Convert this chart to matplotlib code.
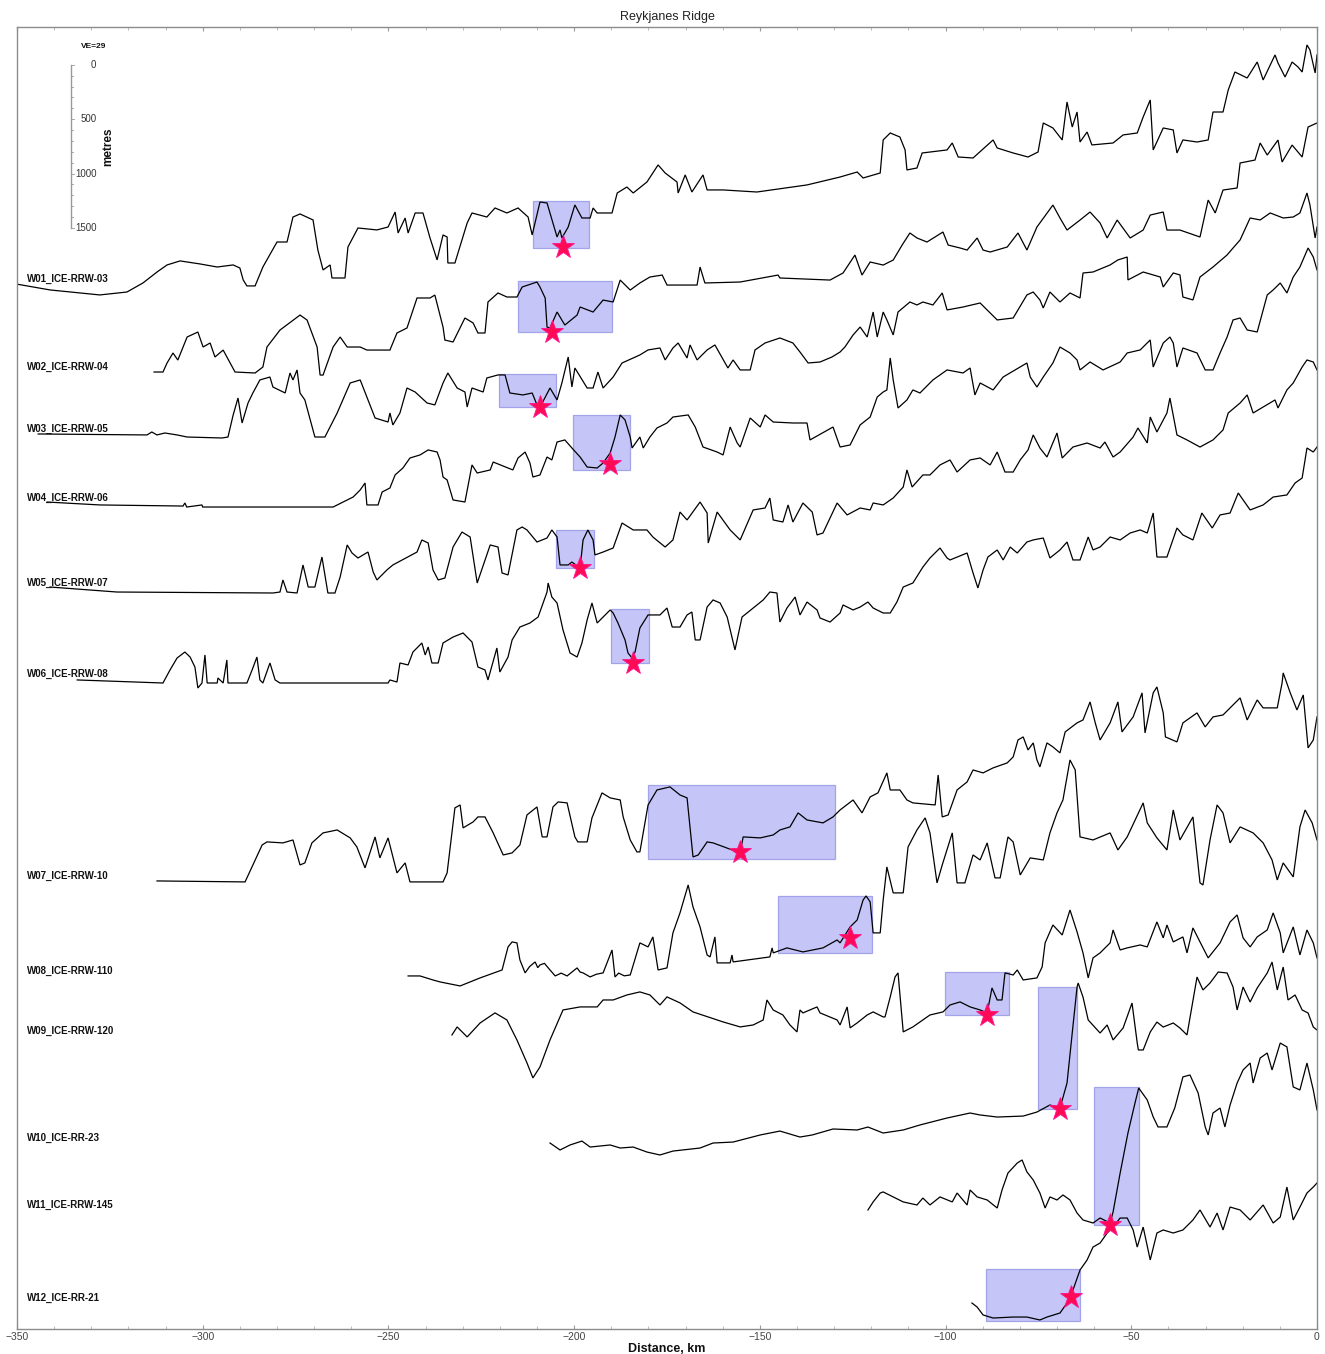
import matplotlib
matplotlib.use("Agg")
import matplotlib.pyplot as plt
from matplotlib.patches import Rectangle
from matplotlib.ticker import MultipleLocator

plt.rcParams['font.family'] = ['Liberation Sans', 'DejaVu Sans']

# ---------------- data: (distance km, relief m relative to profile baseline) ----------------
names = ["W01_ICE-RRW-03", "W02_ICE-RRW-04", "W03_ICE-RRW-05", "W04_ICE-RRW-06",
         "W05_ICE-RRW-07", "W06_ICE-RRW-08", "W07_ICE-RRW-10", "W08_ICE-RRW-110",
         "W09_ICE-RRW-120", "W10_ICE-RR-23", "W11_ICE-RRW-145", "W12_ICE-RR-21"]

W01 = [(-350.3,-46),(-341.1,-101),(-327.7,-147),(-320.4,-120),(-316.1,-37),(-312.3,64),(-309.6,129),(-306.1,166),(-300.7,138),(-296.1,110),(-291.8,129),(-290.0,101),(-289.1,-9),(-288.1,-64),(-285.9,-64),(-283.8,110),(-280.0,340),(-277.3,340),(-275.7,570),(-273.8,598),(-270.3,543),(-269.0,267),(-267.6,83),(-265.7,129),(-265.2,9),(-261.7,9),(-260.9,294),(-258.2,469),(-253.1,451),(-250.1,478),(-248.2,616),(-247.4,423),(-245.5,561),(-244.7,423),(-242.8,607),(-240.7,607),(-238.8,377),(-236.9,175),(-235.3,405),(-234.2,386),(-234.0,147),(-232.1,147),(-228.8,515),(-227.5,607),(-223.5,570),(-221.3,653),(-218.1,607),(-215.1,653),(-212.4,570),(-211.3,405),(-209.2,708),(-207.3,699),(-206.5,607),(-204.6,386),(-203.8,451),(-203.3,377),(-201.6,478),(-199.8,681),(-197.9,561),(-195.7,561),(-194.9,653),(-193.8,607),(-189.8,607),(-188.4,791),(-185.8,846),(-184.1,791),(-180.4,892),(-177.4,1049),(-175.5,975),(-172.3,892),(-172.0,791),(-170.1,957),(-168.3,800),(-165.3,957),(-164.2,819),(-159.9,819),(-150.8,800),(-137.3,865),(-128.4,938),(-123.8,984),(-122.2,929),(-117.6,975),(-116.8,1279),(-114.9,1343),(-112.3,1306),(-110.9,1187),(-110.4,1003),(-107.7,1021),(-106.3,1159),(-99.6,1187),(-98.2,1251),(-96.6,1122),(-92.6,1113),(-87.2,1279),(-86.1,1205),(-81.8,1159),(-77.8,1122),(-75.1,1168),(-73.7,1435),(-71.1,1389),(-68.6,1279),(-67.3,1628),(-65.9,1398),(-64.6,1536),(-63.8,1260),(-61.9,1352),(-60.6,1233),(-54.9,1251),(-52.2,1325),(-48.4,1343),(-46.8,1490),(-44.9,1647),(-44.1,1187),(-41.4,1389),(-38.7,1371),(-37.7,1159),(-36.1,1279),(-32.3,1260),(-29.3,1279),(-28.0,1536),(-25.3,1536),(-23.9,1739),(-22.1,1904),(-18.8,1849),(-16.1,1996),(-14.5,1831),(-11.3,2061),(-10.5,1987),(-8.6,1858),(-6.7,1996),(-5.1,1950),(-4.0,1904),(-2.7,2153),(-1.9,2107),(-0.5,1895),(0.0,2061)]

W02 = [(-313.1,-46),(-310.7,-46),(-309.6,37),(-308.0,129),(-306.7,64),(-304.2,276),(-301.3,322),(-299.9,184),(-298.0,221),(-296.7,92),(-294.5,156),(-291.3,-46),(-285.9,-55),(-283.8,0),(-282.7,184),(-279.2,340),(-273.8,478),(-271.9,432),(-269.2,184),(-268.4,-74),(-267.6,-74),(-264.9,184),(-263.0,276),(-261.1,184),(-257.6,184),(-255.8,156),(-249.6,156),(-247.7,313),(-245.0,359),(-242.3,635),(-238.8,635),(-237.5,662),(-235.3,368),(-234.8,248),(-232.6,230),(-229.4,451),(-227.2,405),(-225.9,313),(-224.0,313),(-223.2,598),(-220.5,681),(-218.1,644),(-215.4,644),(-214.0,736),(-210.0,782),(-209.2,736),(-207.8,635),(-207.3,368),(-206.5,359),(-204.6,506),(-202.5,386),(-199.2,478),(-198.4,552),(-194.9,506),(-192.2,616),(-189.5,598),(-187.6,800),(-184.9,708),(-182.3,773),(-179.6,828),(-176.3,846),(-175.0,754),(-166.9,754),(-166.1,920),(-164.8,773),(-155.3,782),(-145.1,846),(-144.6,819),(-131.1,800),(-127.6,865),(-124.4,1030),(-122.5,846),(-120.3,966),(-116.8,938),(-114.1,984),(-111.7,1122),(-109.6,1233),(-107.7,1187),(-105.0,1150),(-100.7,1242),(-99.3,1122),(-96.1,1095),(-94.2,1076),(-91.5,1187),(-89.9,1076),(-88.0,1058),(-83.4,1104),(-80.5,1233),(-78.1,1076),(-75.4,1288),(-71.1,1490),(-69.2,1371),(-67.3,1260),(-63.8,1352),(-61.1,1426),(-58.4,1325),(-56.5,1187),(-53.8,1352),(-50.3,1187),(-46.8,1260),(-44.9,1398),(-41.4,1426),(-40.4,1260),(-36.9,1260),(-31.5,1196),(-29.3,1536),(-27.4,1417),(-25.3,1628),(-21.5,1647),(-20.7,1877),(-16.7,1904),(-15.3,2061),(-13.4,1950),(-10.5,2088),(-9.4,1886),(-6.7,2042),(-4.0,1932),(-2.4,2208),(0.0,2245)]

W03 = [(-344.3,-46),(-315.0,-55),(-313.7,-28),(-312.3,-55),(-310.2,-37),(-306.9,-55),(-304.2,-74),(-294.8,-83),(-293.2,-74),(-291.8,129),(-290.5,285),(-289.4,55),(-287.8,239),(-286.5,331),(-284.6,451),(-281.9,478),(-281.1,386),(-277.8,331),(-276.5,515),(-275.7,451),(-274.6,543),(-273.8,331),(-272.5,267),(-269.8,-74),(-267.1,-74),(-263.8,147),(-260.3,423),(-257.6,451),(-255.8,294),(-253.6,101),(-250.1,64),(-249.6,147),(-248.8,37),(-246.9,147),(-245.0,377),(-242.8,340),(-239.6,239),(-237.5,221),(-235.3,423),(-234.0,515),(-231.5,377),(-229.4,340),(-228.8,202),(-227.5,377),(-224.5,340),(-223.5,469),(-220.5,497),(-218.6,497),(-217.3,331),(-213.8,313),(-211.3,331),(-210.0,221),(-208.6,239),(-206.5,377),(-204.6,267),(-203.3,423),(-201.6,662),(-200.6,386),(-199.8,561),(-196.5,377),(-194.9,377),(-193.6,524),(-192.2,377),(-189.5,478),(-187.1,607),(-182.3,681),(-180.1,727),(-176.9,745),(-175.5,635),(-173.4,745),(-172.0,791),(-169.6,653),(-168.8,773),(-166.9,635),(-164.2,727),(-162.1,773),(-158.6,561),(-157.2,635),(-155.3,543),(-152.6,543),(-151.3,727),(-148.6,791),(-144.6,837),(-141.1,791),(-139.2,708),(-137.0,607),(-133.8,616),(-130.6,662),(-128.4,708),(-127.1,754),(-124.9,865),(-123.0,938),(-121.1,846),(-119.5,1076),(-118.4,846),(-116.8,1076),(-115.8,1003),(-114.1,865),(-112.8,1076),(-109.6,1168),(-107.7,1141),(-106.1,1168),(-103.4,1141),(-100.9,1251),(-99.6,1095),(-95.3,1122),(-90.7,1159),(-88.0,1067),(-86.1,1003),(-81.8,1021),(-78.1,1233),(-76.4,1260),(-74.6,1187),(-73.7,1113),(-71.9,1260),(-69.2,1168),(-66.5,1251),(-63.8,1205),(-63.0,1435),(-60.3,1444),(-55.7,1509),(-53.6,1555),(-51.1,1582),(-50.9,1371),(-46.8,1444),(-42.2,1398),(-41.4,1306),(-38.7,1435),(-36.9,1417),(-36.1,1214),(-33.4,1187),(-31.5,1398),(-28.0,1490),(-24.2,1601),(-22.6,1665),(-20.7,1739),(-18.0,1941),(-15.3,1923),(-12.6,1987),(-9.1,1941),(-6.4,1950),(-4.6,1987),(-2.7,2171),(-1.9,2061),(-0.5,1757),(0.0,1858)]

W04 = [(-341.9,-37),(-327.7,-64),(-305.3,-74),(-304.8,-46),(-304.3,-83),(-300.2,-64),(-300.0,-83),(-273.8,-83),(-264.9,-83),(-262.2,-37),(-259.5,9),(-257.6,74),(-256.3,138),(-255.8,-64),(-252.8,-64),(-251.7,55),(-249.6,92),(-248.2,212),(-246.1,276),(-244.2,368),(-241.5,396),(-239.3,442),(-236.9,423),(-236.1,350),(-235.3,193),(-234.2,166),(-232.6,-18),(-229.4,-37),(-227.5,304),(-226.1,230),(-222.6,258),(-221.8,331),(-216.5,258),(-215.1,368),(-213.2,423),(-211.9,322),(-211.1,193),(-209.2,212),(-207.3,377),(-206.0,350),(-204.6,515),(-202.5,534),(-200.6,460),(-198.4,377),(-196.5,285),(-193.8,276),(-192.2,322),(-190.3,414),(-189.0,561),(-187.6,764),(-186.3,718),(-184.9,561),(-184.4,460),(-182.3,561),(-181.4,460),(-179.6,561),(-177.7,644),(-175.0,690),(-173.4,745),(-169.3,764),(-167.4,653),(-165.3,469),(-161.5,423),(-159.9,396),(-158.0,653),(-156.1,506),(-155.3,469),(-152.6,736),(-149.9,653),(-148.6,764),(-146.4,699),(-141.1,690),(-137.3,690),(-136.5,534),(-130.3,653),(-128.4,469),(-125.7,488),(-123.0,672),(-120.3,745),(-118.4,929),(-116.8,975),(-115.8,994),(-114.9,1288),(-114.1,1086),(-112.8,828),(-110.4,902),(-108.8,994),(-106.9,966),(-103.4,1086),(-99.6,1178),(-95.3,1150),(-93.4,1196),(-92.1,948),(-90.7,1058),(-87.2,994),(-84.5,1113),(-79.9,1205),(-78.1,1242),(-77.2,1113),(-75.4,1021),(-73.7,1113),(-71.1,1242),(-69.2,1389),(-66.5,1334),(-64.6,1270),(-63.8,1178),(-61.1,1251),(-57.6,1178),(-53.0,1251),(-51.1,1334),(-47.6,1362),(-44.9,1454),(-44.1,1205),(-41.4,1426),(-39.6,1481),(-38.7,1426),(-37.7,1205),(-36.1,1380),(-32.3,1334),(-30.1,1178),(-28.0,1178),(-26.1,1334),(-24.2,1481),(-22.6,1638),(-20.7,1656),(-18.8,1546),(-16.1,1527),(-14.5,1730),(-13.4,1868),(-11.8,1914),(-9.9,1978),(-8.1,1886),(-6.4,2033),(-4.6,2125),(-2.4,2300),(-1.0,2217),(0.0,2098)]

W05 = [(-341.1,-37),(-323.1,-83),(-281.1,-92),(-279.2,-83),(-278.4,28),(-277.3,-83),(-274.6,-92),(-273.0,166),(-271.6,-37),(-269.8,-37),(-267.9,239),(-266.3,-92),(-264.4,-92),(-263.0,55),(-261.1,350),(-259.8,276),(-258.2,230),(-255.5,285),(-254.1,101),(-253.1,28),(-250.4,120),(-248.8,166),(-242.3,285),(-241.0,396),(-239.3,368),(-238.0,120),(-236.6,28),(-234.8,46),(-232.6,331),(-230.2,469),(-228.0,423),(-226.1,0),(-222.6,350),(-220.5,331),(-219.4,92),(-217.8,74),(-215.4,488),(-214.0,515),(-212.7,488),(-210.0,377),(-207.3,414),(-206.0,488),(-204.6,423),(-203.8,166),(-201.6,166),(-200.6,193),(-198.4,138),(-197.6,396),(-196.3,488),(-194.9,396),(-194.4,258),(-192.2,285),(-189.5,322),(-187.1,552),(-184.1,488),(-180.4,488),(-178.8,423),(-175.5,331),(-173.4,396),(-171.5,653),(-169.6,580),(-166.1,745),(-164.2,644),(-163.9,368),(-161.5,653),(-158.0,488),(-155.3,396),(-151.8,672),(-148.6,690),(-147.3,782),(-146.4,580),(-143.8,561),(-142.4,718),(-141.1,561),(-138.4,736),(-135.9,653),(-134.6,442),(-133.0,460),(-129.2,736),(-126.5,626),(-123.0,690),(-120.3,672),(-119.5,736),(-116.8,718),(-114.1,782),(-111.4,883),(-110.4,1040),(-109.0,883),(-106.1,994),(-104.2,994),(-101.5,1086),(-98.8,1132),(-96.9,1021),(-93.4,1132),(-90.7,1150),(-88.0,1086),(-86.1,1205),(-84.0,1021),(-81.8,1021),(-79.9,1132),(-77.8,1224),(-76.4,1362),(-74.6,1242),(-72.7,1159),(-70.0,1380),(-68.6,1150),(-65.7,1251),(-61.9,1288),(-58.4,1242),(-57.1,1297),(-54.9,1159),(-53.0,1205),(-49.5,1343),(-48.2,1426),(-45.7,1288),(-44.9,1527),(-43.1,1389),(-40.4,1564),(-39.6,1702),(-37.7,1362),(-35.0,1316),(-31.5,1251),(-28.0,1316),(-25.3,1408),(-23.9,1564),(-20.7,1656),(-18.8,1730),(-17.2,1564),(-14.5,1619),(-11.3,1684),(-10.5,1610),(-8.1,1776),(-6.4,1840),(-4.0,1987),(-2.7,2052),(-1.0,2033),(0.0,1960)]

W06 = [(-333.8,-55),(-310.7,-83),(-308.8,37),(-306.9,147),(-304.8,202),(-303.4,156),(-302.1,64),(-301.3,-129),(-300.2,-83),(-299.4,175),(-298.8,-83),(-296.1,-83),(-295.9,-37),(-294.5,-83),(-293.5,129),(-293.2,-83),(-288.1,-83),(-286.7,37),(-285.4,156),(-284.6,-55),(-283.8,-83),(-281.9,101),(-280.5,-55),(-279.2,-83),(-250.1,-83),(-249.6,-55),(-247.7,-74),(-246.9,101),(-244.7,83),(-243.4,202),(-241.0,285),(-240.1,175),(-239.3,248),(-238.3,101),(-236.6,101),(-235.3,285),(-232.6,340),(-229.9,377),(-227.5,294),(-225.9,64),(-224.0,37),(-223.2,-55),(-220.8,239),(-220.0,18),(-217.8,156),(-216.7,313),(-214.6,432),(-211.9,469),(-209.7,524),(-207.3,754),(-207.0,837),(-206.0,708),(-204.6,653),(-203.0,405),(-201.1,193),(-199.2,156),(-197.9,285),(-196.5,497),(-195.2,653),(-193.8,469),(-190.3,589),(-189.5,561),(-188.2,469),(-186.3,313),(-185.5,193),(-184.4,147),(-183.6,202),(-182.3,423),(-180.1,543),(-176.9,543),(-175.0,607),(-173.6,432),(-171.5,432),(-169.6,543),(-168.3,570),(-167.4,313),(-166.1,313),(-164.2,616),(-162.6,681),(-160.7,653),(-158.8,524),(-156.7,221),(-154.8,524),(-151.8,607),(-149.1,681),(-147.3,754),(-145.4,745),(-144.6,478),(-142.7,607),(-140.5,708),(-139.2,543),(-137.3,662),(-134.6,589),(-133.8,515),(-131.1,478),(-128.4,561),(-127.6,635),(-124.9,589),(-123.0,616),(-120.9,662),(-119.5,607),(-116.8,561),(-114.9,561),(-113.1,662),(-111.4,800),(-108.8,837),(-106.1,984),(-104.2,1067),(-101.5,1159),(-99.6,1067),(-98.8,1049),(-94.2,1113),(-92.6,929),(-91.3,791),(-89.9,957),(-88.6,1076),(-86.1,1141),(-84.5,1049),(-82.6,1168),(-80.7,1113),(-78.1,1214),(-76.4,1233),(-73.7,1251),(-71.9,1067),(-69.2,1141),(-67.3,1214),(-65.7,1049),(-63.8,1049),(-61.6,1260),(-60.3,1141),(-58.4,1168),(-55.7,1260),(-53.0,1233),(-50.3,1297),(-47.6,1325),(-45.7,1297),(-44.1,1481),(-43.1,1076),(-40.4,1076),(-37.7,1343),(-36.1,1279),(-33.4,1233),(-31.0,1481),(-28.2,1343),(-26.1,1463),(-23.4,1481),(-21.2,1665),(-18.0,1509),(-14.5,1555),(-11.8,1628),(-8.1,1647),(-5.9,1757),(-4.0,1803),(-2.7,2079),(-1.0,2042),(0.0,2088)]

W07 = [(-312.3,-46),(-288.6,-55),(-286.5,101),(-284.0,285),(-282.7,313),(-278.4,304),(-275.7,331),(-273.8,101),(-272.5,120),(-270.6,304),(-267.6,396),(-263.8,423),(-260.3,350),(-258.5,267),(-256.3,74),(-253.6,359),(-252.3,166),(-250.1,350),(-247.7,28),(-245.5,120),(-244.2,-55),(-235.3,-55),(-234.2,28),(-232.1,626),(-230.7,653),(-229.9,442),(-227.2,497),(-225.9,543),(-224.0,543),(-221.8,396),(-219.1,193),(-216.7,212),(-214.6,285),(-212.7,561),(-210.0,635),(-208.6,359),(-207.3,359),(-205.7,635),(-204.3,681),(-201.9,672),(-199.8,359),(-199.0,313),(-196.5,313),(-195.2,534),(-192.5,764),(-190.3,718),(-187.6,699),(-186.8,543),(-184.9,331),(-183.1,221),(-182.3,221),(-180.1,653),(-177.7,791),(-174.2,819),(-171.5,745),(-169.6,718),(-168.0,175),(-166.6,193),(-164.2,313),(-162.6,304),(-155.3,212),(-154.5,359),(-149.9,350),(-146.4,377),(-144.6,423),(-141.9,451),(-139.7,580),(-137.3,515),(-133.0,488),(-130.3,543),(-128.4,607),(-124.9,699),(-122.5,580),(-120.3,727),(-118.2,764),(-115.8,948),(-114.9,791),(-112.3,791),(-110.4,699),(-108.8,672),(-102.8,653),(-102.0,929),(-100.9,543),(-99.3,561),(-96.9,791),(-94.2,865),(-92.6,975),(-89.9,948),(-87.2,994),(-83.4,1040),(-81.8,1095),(-80.5,1251),(-79.1,1279),(-77.8,1159),(-76.4,1224),(-75.4,1067),(-74.6,1003),(-72.7,1224),(-71.1,1187),(-69.2,1132),(-67.8,1325),(-64.6,1408),(-63.0,1435),(-61.1,1601),(-59.7,1408),(-58.4,1251),(-55.7,1408),(-53.6,1601),(-52.5,1325),(-49.5,1463),(-47.1,1684),(-46.3,1316),(-44.1,1684),(-43.1,1739),(-41.4,1500),(-40.8,1279),(-37.7,1233),(-36.1,1408),(-32.3,1500),(-30.1,1371),(-28.0,1463),(-25.3,1481),(-20.7,1638),(-18.8,1435),(-16.1,1619),(-14.5,1546),(-10.7,1546),(-9.4,1776),(-9.1,1868),(-7.2,1684),(-5.4,1527),(-3.7,1665),(-2.4,1178),(-1.0,1251),(0.0,1463)]

W08 = [(-244.7,-46),(-241.5,-46),(-238.0,-83),(-236.1,-101),(-230.7,-138),(-225.3,-64),(-219.4,9),(-217.8,221),(-216.7,267),(-215.4,258),(-214.6,101),(-213.2,-18),(-212.0,40),(-210.5,83),(-209.8,30),(-209.2,55),(-208.0,70),(-206.5,9),(-205.1,-46),(-203.5,-20),(-201.9,-46),(-199.2,28),(-198.4,-10),(-197.6,-18),(-195.7,-55),(-194.0,-30),(-192.2,-18),(-189.8,193),(-189.0,-55),(-188.0,-20),(-186.5,-45),(-184.9,-37),(-182.3,258),(-180.1,221),(-178.8,313),(-177.4,9),(-175.0,28),(-173.4,350),(-171.5,534),(-169.3,791),(-168.0,589),(-166.1,405),(-164.2,147),(-163.4,129),(-162.1,313),(-161.5,74),(-158.0,74),(-157.5,147),(-157.2,83),(-147.3,129),(-146.7,212),(-146.4,166),(-142.7,212),(-138.4,175),(-133.0,212),(-129.2,285),(-128.4,258),(-125.7,405),(-123.8,469),(-122.2,653),(-121.4,690),(-120.3,635),(-119.5,350),(-117.6,350),(-116.8,653),(-115.8,957),(-114.1,718),(-111.4,718),(-110.1,1141),(-107.7,1297),(-105.5,1408),(-104.2,1270),(-102.3,810),(-100.9,975),(-98.2,1270),(-96.9,810),(-94.8,810),(-92.6,1067),(-90.7,1021),(-88.8,1178),(-86.7,856),(-85.3,856),(-83.2,1233),(-81.8,1187),(-79.9,883),(-77.2,1040),(-73.7,1021),(-71.9,1270),(-70.0,1454),(-68.4,1573),(-66.5,1941),(-65.1,1849),(-63.8,1233),(-60.3,1205),(-55.7,1270),(-53.6,1113),(-51.1,1233),(-46.8,1546),(-45.7,1362),(-43.1,1224),(-40.4,1113),(-38.7,1481),(-36.9,1205),(-33.4,1417),(-31.5,810),(-30.7,791),(-28.8,1205),(-26.9,1527),(-25.3,1454),(-23.4,1178),(-20.7,1325),(-17.2,1270),(-14.5,1178),(-12.1,1021),(-10.7,837),(-9.1,994),(-6.4,865),(-4.6,1325),(-3.2,1481),(-1.3,1362),(0.0,1205)]

W09 = [(-232.9,-37),(-231.5,37),(-228.8,-55),(-225.3,74),(-221.3,166),(-218.1,101),(-215.4,-83),(-212.7,-294),(-211.1,-432),(-209.2,-331),(-206.5,-83),(-203.0,193),(-198.4,221),(-193.8,221),(-192.2,285),(-189.5,285),(-185.8,331),(-182.3,359),(-179.6,331),(-176.9,239),(-175.0,313),(-171.5,258),(-168.0,175),(-159.9,83),(-155.3,37),(-151.8,55),(-149.1,101),(-148.1,285),(-146.4,193),(-143.8,147),(-141.9,55),(-140.0,-9),(-139.2,193),(-138.4,166),(-134.6,221),(-133.8,166),(-129.2,101),(-128.4,55),(-126.5,221),(-125.7,28),(-123.8,74),(-121.1,147),(-119.5,175),(-116.8,129),(-116.3,129),(-114.9,313),(-113.6,497),(-112.8,534),(-111.4,-9),(-108.8,37),(-104.2,147),(-100.7,175),(-98.8,239),(-96.1,267),(-93.4,221),(-90.7,193),(-88.8,166),(-87.5,396),(-86.1,285),(-84.8,285),(-84.0,534),(-81.8,515),(-80.7,561),(-79.1,469),(-75.4,488),(-74.0,589),(-73.2,810),(-71.1,975),(-68.6,883),(-66.5,1113),(-64.6,911),(-63.0,718),(-61.6,488),(-60.3,672),(-58.4,718),(-55.7,810),(-54.9,929),(-53.0,745),(-51.1,764),(-47.6,791),(-45.7,773),(-43.1,1003),(-41.4,856),(-40.4,975),(-38.7,819),(-36.1,865),(-35.0,718),(-33.4,948),(-31.5,819),(-29.3,672),(-26.1,810),(-23.4,1003),(-21.5,1067),(-19.9,856),(-18.0,773),(-16.1,865),(-13.4,929),(-11.8,1086),(-9.9,902),(-9.1,718),(-6.4,957),(-4.6,699),(-2.7,929),(-1.0,810),(0.0,672)]

W10 = [(-206.5,-46),(-203.8,-110),(-201.1,-64),(-197.9,-28),(-195.7,-83),(-190.3,-64),(-187.6,-92),(-184.1,-83),(-180.4,-129),(-176.9,-156),(-173.4,-120),(-166.1,-92),(-162.6,-46),(-157.2,-37),(-149.9,28),(-144.6,64),(-139.2,9),(-135.9,28),(-130.3,83),(-123.8,74),(-120.9,101),(-116.8,46),(-111.4,74),(-106.9,120),(-99.6,184),(-93.4,230),(-90.7,212),(-86.1,193),(-79.1,202),(-75.4,239),(-71.9,304),(-69.2,276),(-67.3,506),(-65.9,966),(-64.6,1389),(-64.3,1426),(-63.0,1297),(-61.6,1086),(-58.4,966),(-56.5,1040),(-54.9,902),(-52.2,1012),(-49.8,1242),(-48.4,874),(-48.1,810),(-46.8,810),(-44.9,975),(-43.1,1067),(-41.4,1021),(-38.7,1058),(-36.9,1012),(-35.0,948),(-33.6,1224),(-32.3,1481),(-30.7,1362),(-28.8,1426),(-26.6,1527),(-24.2,1518),(-22.6,1389),(-21.5,1178),(-19.9,1389),(-18.0,1251),(-16.1,1380),(-13.4,1518),(-12.1,1619),(-10.7,1362),(-9.1,1573),(-7.8,1270),(-5.9,1316),(-4.0,1178),(-2.4,1150),(-1.0,1021),(0.0,994)]

W11 = [(-120.9,-46),(-119.5,28),(-117.6,110),(-116.8,120),(-114.1,74),(-111.4,28),(-107.7,0),(-106.1,64),(-104.2,0),(-101.5,74),(-98.2,28),(-96.9,110),(-94.2,0),(-93.4,138),(-91.5,74),(-88.8,46),(-86.1,-28),(-84.8,138),(-83.2,294),(-80.7,386),(-79.4,414),(-78.1,304),(-76.4,230),(-74.6,110),(-73.2,-28),(-71.9,74),(-70.0,46),(-68.4,92),(-66.5,46),(-64.6,-74),(-63.0,-138),(-60.3,-166),(-58.4,-120),(-55.7,-166),(-54.9,-64),(-53.0,294),(-50.9,662),(-49.0,938),(-48.0,1076),(-45.7,966),(-44.1,810),(-42.8,718),(-40.4,718),(-38.3,892),(-36.1,1178),(-34.2,1196),(-32.0,1030),(-30.1,718),(-29.3,644),(-28.0,846),(-26.1,892),(-24.8,718),(-23.4,920),(-21.5,1122),(-19.9,1242),(-18.0,1306),(-17.2,1122),(-15.3,1352),(-13.4,1398),(-12.1,1242),(-9.9,1490),(-8.1,1454),(-6.4,1086),(-4.6,1058),(-2.7,1306),(-1.0,1058),(0.0,874)]

W12 = [(-92.9,-46),(-91.5,-83),(-89.9,-156),(-87.2,-184),(-81.8,-175),(-78.1,-175),(-74.6,-202),(-72.7,-175),(-69.2,-138),(-67.3,-46),(-65.7,74),(-63.8,258),(-61.9,350),(-60.3,469),(-58.4,506),(-56.5,598),(-54.9,653),(-53.0,736),(-51.1,736),(-49.5,626),(-48.4,469),(-46.8,653),(-44.9,350),(-43.1,598),(-41.4,626),(-38.7,598),(-36.1,626),(-33.4,718),(-31.5,810),(-28.8,653),(-26.9,782),(-25.3,626),(-23.4,837),(-20.7,810),(-18.0,718),(-14.5,856),(-11.8,690),(-9.9,745),(-8.1,1021),(-6.4,718),(-4.6,837),(-2.7,966),(-1.0,1021),(0.0,1058)]

profiles = [W01, W02, W03, W04, W05, W06, W07, W08, W09, W10, W11, W12]

# highlighted segments (km range, relief range in m) and marked points
box_left   = [-211.1, -215.1, -220.2, -200.3, -204.9, -190.1, -180.1, -145.1, -100.1, -75.1, -60.0, -89.1]
box_right  = [-196.0, -189.8, -204.9, -184.9, -194.6, -179.8, -129.8, -119.8, -82.9, -64.6, -47.9, -63.8]
box_top    = [718, 791, 506, 764, 488, 598, 837, 690, 543, 1389, 1086, 267]
box_bottom = [285, 322, 202, 258, 138, 101, 156, 166, 147, 267, -184, -212]
star_km    = [-203.0, -206.0, -209.2, -190.3, -198.4, -184.1, -155.3, -125.7, -88.8, -69.2, -55.7, -66.2]
star_m     = [294, 322, 202, 313, 138, 101, 221, 304, 147, 267, -184, 9]

scale_ticks = [0, 500, 1000, 1500]

# ---------------- layout ----------------
offsets = [9660, 8850, 8280, 7645, 6863, 6026, 4168, 3294, 2742, 1757, 1141, 285]
YMAX = 11978

fig = plt.figure(figsize=(13.25, 13.54), dpi=100)
ax = fig.add_axes([17/1325, 25/1354, 1300/1325, 1302/1354])
ax.set_xlim(-350, 0)
ax.set_ylim(0, YMAX)

for i, prof in enumerate(profiles):
    off = offsets[i]
    xs = [p[0] for p in prof]
    ys = [off + p[1] for p in prof]
    ax.add_patch(Rectangle((box_left[i], off + box_bottom[i]),
                           box_right[i] - box_left[i], box_top[i] - box_bottom[i],
                           facecolor='#c5c5f7', edgecolor='#a3a3ea', lw=0.9, zorder=1))
    ax.plot(xs, ys, color='black', lw=0.9, zorder=2, solid_joinstyle='miter')
    ax.plot(star_km[i], off + star_m[i], marker='*', ms=17, color='#ff0a55',
            markeredgecolor='#ff1493', markeredgewidth=0.6, zorder=3, clip_on=False)
    ax.text(-347.3, off, names[i], fontsize=7.0, fontweight='bold',
            ha='left', va='center', color='#111111', zorder=4)

# vertical scale bar
bar_x = -335.5
bar_top = 11630
ax.plot([bar_x, bar_x], [bar_top, bar_top - 1500], color='#999999', lw=1.0)
for v in range(0, 1501, 100):
    L = 0.9 if v in scale_ticks else 0.5
    ax.plot([bar_x, bar_x + L], [bar_top - v, bar_top - v], color='#999999', lw=0.6)
for v in scale_ticks:
    ax.text(-328.6, bar_top - v, str(v), fontsize=7, ha='right', va='center', color='#333333')
ax.text(-325.4, bar_top - 750, 'metres', fontsize=8.5, fontweight='bold',
        rotation=90, ha='center', va='center', color='#111111')
ax.text(-329.3, bar_top + 170, 'VE=29', fontsize=6, fontweight='bold',
        ha='center', va='center', color='#111111')

# axes styling
for s in ax.spines.values():
    s.set_color('#8c8c8c')
    s.set_linewidth(1.0)
ax.xaxis.set_major_locator(MultipleLocator(50))
ax.xaxis.set_minor_locator(MultipleLocator(10))
ax.tick_params(axis='x', which='major', direction='in', length=3, width=0.8,
               color='#9a9a9a', labelsize=7.5, labelcolor='#444444', pad=2, top=True)
ax.tick_params(axis='x', which='minor', direction='in', length=2, width=0.6,
               color='#b0b0b0', top=True)
ax.set_yticks([])
ax.set_xlabel('Distance, km', fontsize=9, fontweight='bold', labelpad=1, color='#111111')
ax.set_title('Reykjanes Ridge', fontsize=9, pad=5, color='#222222')

fig.savefig('out.png', dpi=100)
